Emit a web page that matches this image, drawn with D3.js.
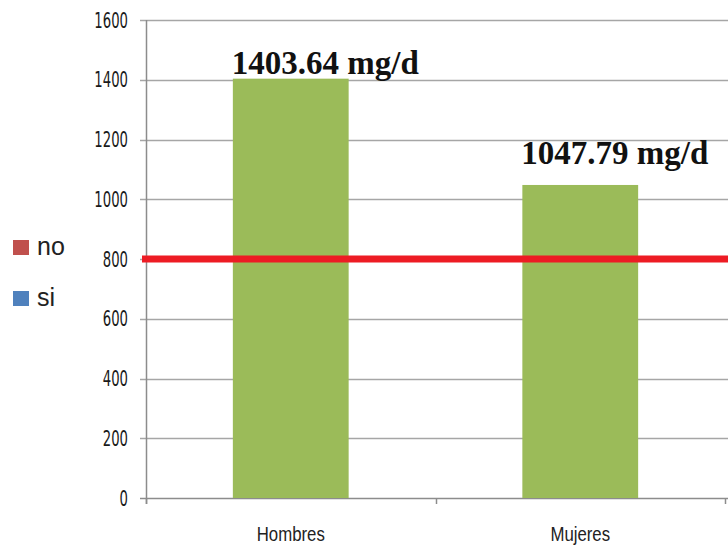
<!DOCTYPE html>
<html>
<head>
<meta charset="utf-8">
<script src="https://cdn.jsdelivr.net/npm/d3@7"></script>
<style>
  html, body { margin: 0; padding: 0; background: #fff; }
  svg { display: block; }
</style>
</head>
<body>
<svg id="chart" width="728" height="545"></svg>
<script>
// Daily intake by sex, with the 800 mg/d reference line
const categories = ["Hombres", "Mujeres"];
const values = [1403.64, 1047.79];
const valueLabels = ["1403.64 mg/d", "1047.79 mg/d"];
const yTicks = [0, 200, 400, 600, 800, 1000, 1200, 1400, 1600];
const threshold = 800;
const legendItems = ["no", "si"];
const legendColors = ["#c0504d", "#4f81bd"];

const W = 728, H = 545;
const plotLeft = 146, plotRight = 725, plotTop = 20, plotBottom = 498;

const svg = d3.select("#chart");

const y = d3.scaleLinear().domain([0, 1600]).range([plotBottom, plotTop]);
const x = d3.scaleBand().domain(categories).range([plotLeft, plotRight])
  .paddingInner(0.6).paddingOuter(0.3);

const gridColor = "#a6a6a6";
const axisColor = "#8c8c8c";

// horizontal gridlines with small ticks left of the axis
svg.append("g").selectAll("line").data(yTicks).join("line")
  .attr("x1", plotLeft - 6).attr("x2", W)
  .attr("y1", d => Math.round(y(d)) + 0.5).attr("y2", d => Math.round(y(d)) + 0.5)
  .attr("stroke", d => d === 0 ? axisColor : gridColor)
  .attr("stroke-width", 1.5);

// vertical axis line
svg.append("line")
  .attr("x1", plotLeft + 0.5).attr("x2", plotLeft + 0.5)
  .attr("y1", plotTop).attr("y2", plotBottom + 6)
  .attr("stroke", axisColor).attr("stroke-width", 1.5);

// category boundary ticks on the x axis
const bounds = [plotLeft, (plotLeft + plotRight) / 2, plotRight];
svg.append("g").selectAll("line").data(bounds).join("line")
  .attr("x1", d => Math.round(d) + 0.5).attr("x2", d => Math.round(d) + 0.5)
  .attr("y1", plotBottom).attr("y2", plotBottom + 6)
  .attr("stroke", axisColor).attr("stroke-width", 1.5);

// y tick labels (narrow, tall digits)
svg.append("g").selectAll("text").data(yTicks).join("text")
  .attr("transform", d => `translate(128,${y(d)}) scale(0.63,1)`)
  .attr("text-anchor", "end")
  .attr("dy", "0.36em")
  .attr("font-family", "DejaVu Sans, sans-serif")
  .attr("font-size", 21)
  .attr("fill", "#1a1a1a")
  .text(d => d);

// bars
svg.append("g").selectAll("rect").data(values).join("rect")
  .attr("x", (d, i) => x(categories[i]))
  .attr("width", x.bandwidth())
  .attr("y", d => y(d))
  .attr("height", d => y(0) - y(d))
  .attr("fill", "#9bbb59");

// threshold line
svg.append("line")
  .attr("x1", plotLeft - 4).attr("x2", W)
  .attr("y1", y(threshold)).attr("y2", y(threshold))
  .attr("stroke", "#ed1c24").attr("stroke-width", 7);

// value labels above bars
const labelLift = [5, 21];
svg.append("g").selectAll("text").data(values).join("text")
  .attr("x", (d, i) => x(categories[i]) - 1)
  .attr("y", (d, i) => y(d) - labelLift[i])
  .attr("font-family", "Liberation Serif, serif")
  .attr("font-weight", "bold")
  .attr("font-size", 33)
  .attr("fill", "#111")
  .text((d, i) => valueLabels[i]);

// category labels
svg.append("g").selectAll("text").data(categories).join("text")
  .attr("transform", d => `translate(${x(d) + x.bandwidth() / 2},541) scale(0.84,1)`)
  .attr("text-anchor", "middle")
  .attr("font-family", "Liberation Sans, Arial, sans-serif")
  .attr("font-size", 20)
  .attr("fill", "#222")
  .text(d => d);

// legend
const legend = svg.append("g").selectAll("g").data(legendItems).join("g")
  .attr("transform", (d, i) => `translate(13,${240 + i * 51})`);
legend.append("rect")
  .attr("width", 16).attr("height", 15)
  .attr("fill", (d, i) => legendColors[i]);
legend.append("text")
  .attr("x", 24).attr("y", 15)
  .attr("font-family", "Liberation Sans, Arial, sans-serif")
  .attr("font-size", 25)
  .attr("fill", "#222")
  .text(d => d);
</script>
</body>
</html>
